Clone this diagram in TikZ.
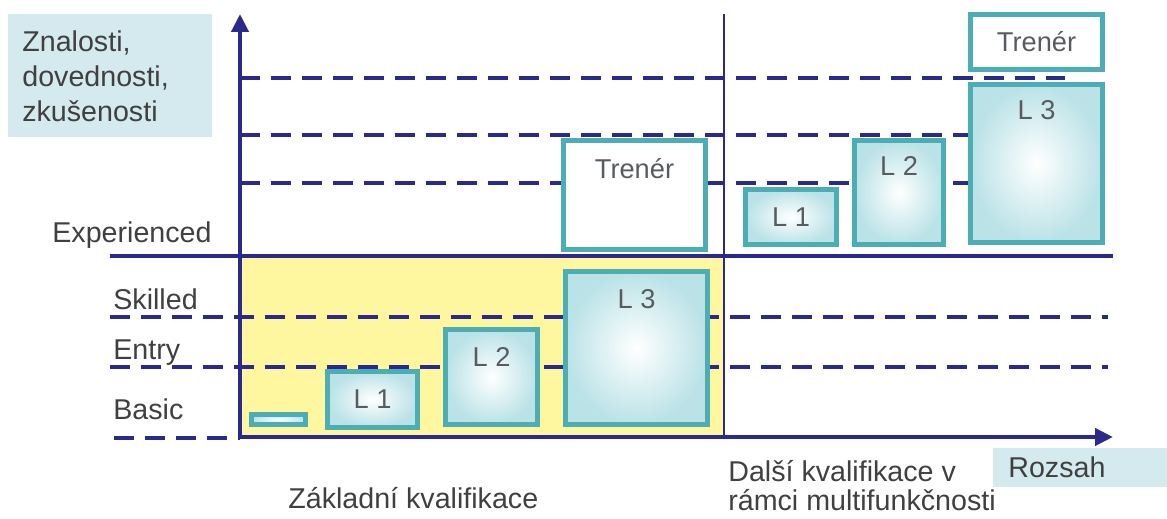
\documentclass[tikz,border=0pt]{standalone}
\usepackage{fontspec}
\setmainfont{Liberation Sans}
\usetikzlibrary{arrows.meta,positioning}

\definecolor{navy}{RGB}{43,42,140}
\definecolor{boxline}{RGB}{76,174,180}
\definecolor{boxin}{RGB}{186,226,231}
\definecolor{tagbg}{RGB}{212,234,239}
\definecolor{yellowbg}{RGB}{255,246,160}
\definecolor{txt}{RGB}{64,64,64}
\definecolor{lbltxt}{RGB}{88,92,96}

\begin{document}
\begin{tikzpicture}[
  x=0.02cm, y=-0.02cm,
  every node/.style={text=txt, font=\fontsize{16.3}{18.8}\selectfont},
  level/.style={navy, line width=2.2pt, dash pattern=on 0.4cm off 0.22cm},
  axis/.style={navy, line width=2.4pt, -{Triangle[length=0.36cm,width=0.34cm]}},
  box/.style={draw=boxline, line width=2.8pt, inner sep=0pt,
    inner color=white, outer color=boxin},
  openbox/.style={draw=boxline, line width=2.8pt, inner sep=0pt, fill=white},
  lbl/.style={text=lbltxt, font=\fontsize{15.5}{18}\selectfont},
  side/.style={anchor=base west, inner sep=0pt},
  tag/.style={fill=tagbg, inner sep=0pt, align=left}]

\useasboundingbox (0,0) rectangle (1167,519);

\fill[yellowbg] (240,256) rectangle (724,437);

% levels
\draw[level] (240,78) -- (1065,78);
\draw[level] (240,135) -- (970,135);
\draw[level] (240,183) -- (970,183);
\draw[navy, line width=1.8pt] (110,256) -- (1113,256);
\draw[level] (110,317) -- (1108,317);
\draw[level] (110,367) -- (1108,367);
\draw[level] (114,438) -- (240,438);
\draw[navy, line width=1.2pt] (724,14) -- (724,437);

% boxes, basic part
\node[box, minimum width=1.08cm, minimum height=0.2cm] (b0) at (278.5,419.5) {};
\node[box, minimum width=1.8cm, minimum height=1.12cm] (l1) at (372.5,399.5) {};
\node[box, minimum width=1.84cm, minimum height=1.9cm] (l2) at (491.5,377) {};
\node[box, minimum width=2.84cm, minimum height=3.06cm] (l3) at (636.5,348) {};
\node[openbox, minimum width=2.84cm, minimum height=2.18cm] (t1) at (634.5,195) {};

\node[lbl] at (l1) {L 1};
\node[lbl] at ([yshift=-0.6cm]l2.north) {L 2};
\node[lbl] at ([yshift=-0.6cm]l3.north) {L 3};
\node[lbl] at ([yshift=-0.62cm]t1.north) {Trenér};

% boxes, further part
\node[box, minimum width=1.82cm, minimum height=1.1cm] (r1) at (791,217) {};
\node[box, minimum width=1.78cm, minimum height=2.08cm] (r2) at (899,192.5) {};
\node[box, minimum width=2.64cm, minimum height=3.16cm] (r3) at (1036.5,163.5) {};
\node[openbox, minimum width=2.64cm, minimum height=1.1cm] (t2) at (1036.5,42) {};

\node[lbl] at (r1) {L 1};
\node[lbl] at ([yshift=-0.56cm]r2.north) {L 2};
\node[lbl] at ([yshift=-0.56cm]r3.north) {L 3};
\node[lbl] at (t2) {Trenér};

% axes
\draw[axis] (240,437) -- (240,14);
\draw[axis] (240,437) -- (1113,437);

\node[tag, anchor=north west, text width=3.52cm, minimum height=2.46cm,
  inner xsep=0.28cm, font=\fontsize{16.3}{19.9}\selectfont] (ylab) at (8,14)
  {Znalosti,\\dovednosti,\\zkušenosti};
\node[tag, anchor=west, text width=2.88cm, minimum height=0.78cm,
  inner xsep=0.3cm] (xlab) at (993,467.5) {Rozsah};

\node[side] (exp) at (52,243) {Experienced};
\node[side] (skl) at (113,310) {Skilled};
\node[side] (ent) at (113,360) {Entry};
\node[side] (bas) at (113,420) {Basic};

\node[side] (zk) at (288,509) {Základní kvalifikace};
\node[side, align=left, font=\fontsize{16.3}{16.8}\selectfont] (dk) at (728,511)
  {Další kvalifikace v\\rámci multifunkčnosti};
\end{tikzpicture}
\end{document}
